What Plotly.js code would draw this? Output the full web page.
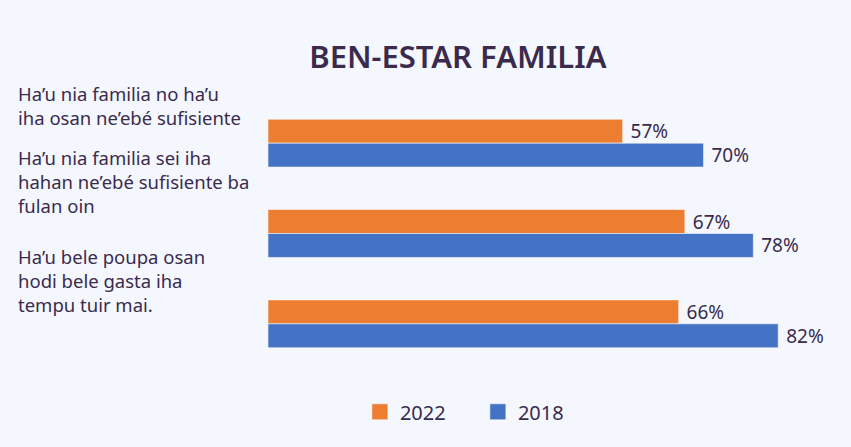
<!DOCTYPE html>
<html>
<head>
<meta charset="utf-8">
<script src="https://cdn.plot.ly/plotly-3.0.1.min.js"></script>
<style>html,body{margin:0;padding:0;background:#f4f7fe;}#chart{width:851px;height:447px;}</style>
</head>
<body>
<div id="chart"></div>
<script>
const categories = ["cat1", "cat2", "cat3"];
const categoryLabels = [
  "Ha’u nia familia no ha’u<br>iha osan ne’ebé sufisiente",
  "Ha’u nia familia sei iha<br>hahan ne’ebé sufisiente ba<br>fulan oin",
  "Ha’u bele poupa osan<br>hodi bele gasta iha<br>tempu tuir mai."
];
const values2022 = [57, 67, 66];
const values2018 = [70, 78, 82];
const seriesNames = ["2022", "2018"];
const colors = ["#ED7D31", "#4472C4"];
const textColor = "#3a2b4d";
const FONT = "Noto Sans, sans-serif";

const mkTrace = (vals, i) => ({
  type: "bar",
  orientation: "h",
  name: seriesNames[i],
  y: categories,
  x: vals,
  showlegend: false,
  marker: {color: colors[i], line: {color: "rgba(255,255,255,0.55)", width: 1}},
  texttemplate: "\u00a0%{x}%",
  textposition: "outside",
  constraintext: "none",
  cliponaxis: false,
  textfont: {family: FONT, size: 19, color: textColor},
  hoverinfo: "skip"
});

const mkLegend = (i) => ({
  type: "scatter",
  mode: "markers",
  name: seriesNames[i],
  x: [null], y: [null],
  marker: {symbol: "square", size: 20, color: colors[i], line: {color: "rgba(255,255,255,0.55)", width: 1}},
  showlegend: true,
  hoverinfo: "skip"
});

const data = [mkTrace(values2022, 0), mkTrace(values2018, 1), mkLegend(0), mkLegend(1)];

const annotations = categories.map((c, i) => ({
  xref: "paper", yref: "y",
  x: -0.432, y: c,
  xanchor: "left", yanchor: "middle",
  yshift: [38, 52, 43][i],
  align: "left",
  showarrow: false,
  text: categoryLabels[i],
  font: {family: FONT, size: 18.5, color: textColor}
}));

const layout = {
  width: 851, height: 447,
  paper_bgcolor: "#f4f7fe",
  plot_bgcolor: "#f4f7fe",
  margin: {l: 268, r: 0, t: 98, b: 78, autoexpand: false},
  title: {
    text: "BEN-ESTAR FAMILIA",
    xref: "container", x: 0.538, xanchor: "center",
    yref: "container", y: 0.872, yanchor: "middle",
    font: {family: FONT, size: 31, color: textColor, weight: 600}
  },
  barmode: "group",
  bargap: 0.47,
  bargroupgap: 0,
  xaxis: {range: [0, 93.7], visible: false, fixedrange: true},
  yaxis: {range: [2.5, -0.5], autorange: false, showticklabels: false, showgrid: false, zeroline: false, showline: false, ticks: "", fixedrange: true},
  showlegend: true,
  legend: {
    orientation: "h",
    x: 0.36, xanchor: "center",
    y: -0.158, yanchor: "middle",
    font: {family: FONT, size: 20, color: textColor},
    itemwidth: 30,
    entrywidth: 73,
    traceorder: "normal",
    bgcolor: "rgba(0,0,0,0)"
  },
  annotations: annotations
};

Plotly.newPlot("chart", data, layout, {displayModeBar: false, staticPlot: true});
</script>
</body>
</html>
